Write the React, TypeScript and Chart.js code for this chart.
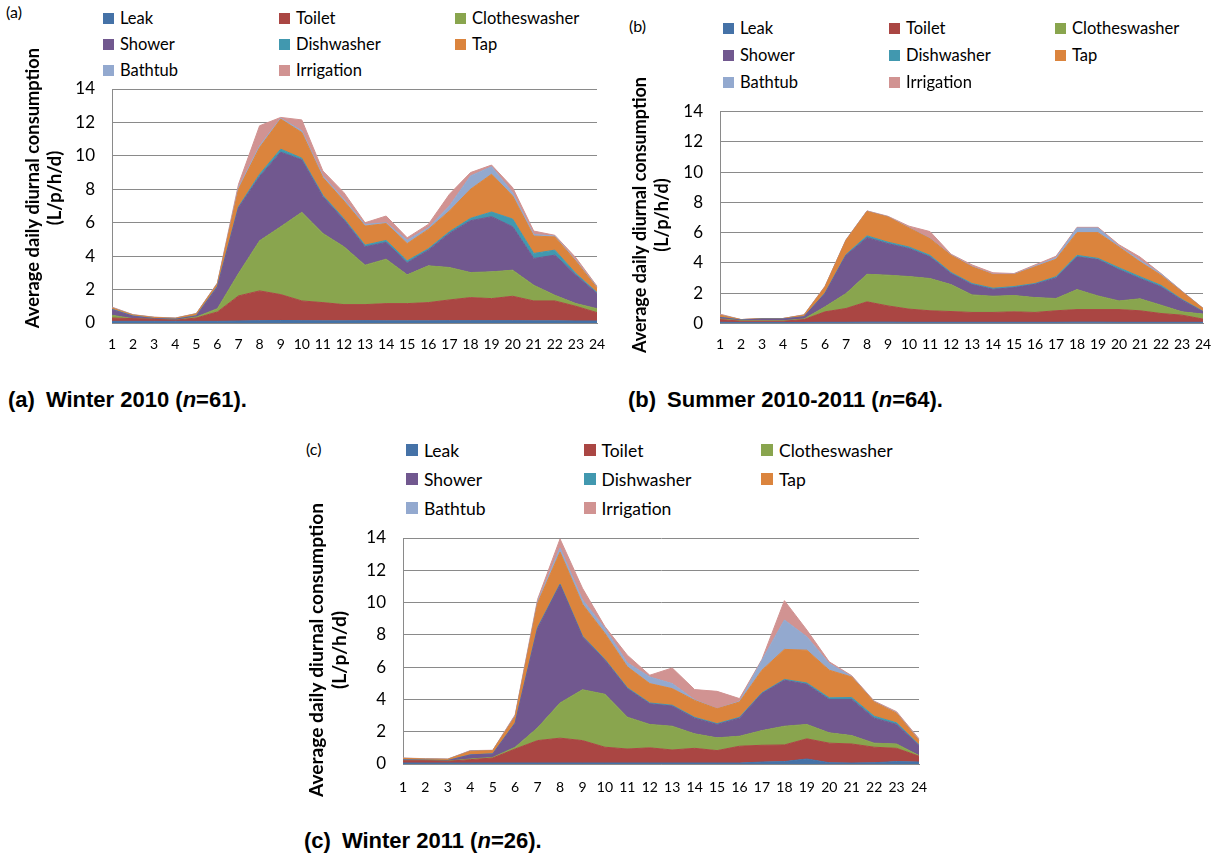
import React, { useEffect, useRef } from 'react';
import { Chart, registerables } from 'chart.js';

Chart.register(...registerables);

const FONT = 'Lato, "Noto Sans", sans-serif';

const hours = ['1','2','3','4','5','6','7','8','9','10','11','12','13','14','15','16','17','18','19','20','21','22','23','24'];
const seriesNames = ['Leak','Toilet','Clotheswasher','Shower','Dishwasher','Tap','Bathtub','Irrigation'];
const seriesColors = ['#4572A7','#AA4643','#89A54E','#71588F','#4198AF','#DB843D','#93A9CF','#D19392'];
const yMin = 0;
const yMax = 14;
const yStep = 2;
const yTitleLines = ['Average daily diurnal consumption', '(L/p/h/d)'];

// (a) Winter 2010
const leakW10 = [0.1,0.1,0.1,0.1,0.1,0.1,0.12,0.14,0.15,0.14,0.13,0.13,0.14,0.13,0.13,0.13,0.14,0.14,0.14,0.14,0.13,0.13,0.12,0.12];
const toiletW10 = [0.2,0.16,0.12,0.06,0.2,0.56,1.5,1.78,1.55,1.18,1.09,0.97,0.96,1.03,1.03,1.09,1.24,1.38,1.32,1.46,1.19,1.19,0.88,0.5];
const clothesW10 = [0.16,0,0,0,0.06,0.2,1.34,3.0,4.06,5.3,4.14,3.46,2.36,2.66,1.72,2.2,1.94,1.5,1.6,1.56,0.94,0.34,0.16,0.24];
const showerW10 = [0.34,0.14,0.04,0.06,0.06,1.3,3.94,3.84,4.46,3.14,2.2,1.6,1.1,1.0,0.72,0.94,2.04,3.1,3.3,2.6,1.6,2.4,1.7,0.9];
const dishW10 = [0.02,0.02,0.01,0.01,0.02,0.04,0.05,0.14,0.18,0.1,0.08,0.08,0.1,0.12,0.12,0.08,0.1,0.14,0.28,0.46,0.3,0.3,0.1,0.06];
const tapW10 = [0.08,0.06,0.06,0.05,0.11,0.15,1.05,1.6,1.8,1.54,1.06,1.06,1.14,1.01,1.03,1.16,1.24,1.74,2.26,1.38,1.04,0.79,0.74,0.28];
const bathW10 = [0.02,0.01,0.01,0.01,0.01,0.03,0.1,0.1,0.05,0.1,0.1,0.1,0.1,0.05,0.2,0.1,0.3,0.8,0.45,0.2,0.1,0.05,0.05,0.05];
const irrigW10 = [0.03,0.01,0.01,0.01,0.01,0.02,0.2,1.2,0.05,0.65,0.3,0.4,0.1,0.4,0.15,0.2,0.7,0.2,0.1,0.3,0.2,0.05,0.15,0.05];

// (b) Summer 2010-2011
const leakS = [0.08,0.07,0.07,0.07,0.07,0.08,0.08,0.09,0.09,0.08,0.08,0.08,0.08,0.08,0.08,0.08,0.08,0.09,0.09,0.08,0.08,0.08,0.08,0.08];
const toiletS = [0.18,0.08,0.08,0.08,0.19,0.69,0.91,1.34,1.07,0.87,0.76,0.71,0.65,0.65,0.69,0.65,0.76,0.83,0.83,0.84,0.76,0.58,0.47,0.21];
const clothesS = [0.04,0.03,0.03,0.03,0.04,0.33,0.99,1.82,2.03,2.15,2.13,1.78,1.16,1.07,1.08,0.98,0.81,1.32,0.9,0.57,0.79,0.55,0.22,0.33];
const showerS = [0.1,0.04,0.11,0.11,0.14,0.88,2.52,2.42,2.08,1.85,1.43,0.73,0.68,0.46,0.52,0.88,1.36,2.16,2.4,2.07,1.34,1.21,0.77,0.15];
const dishS = [0.01,0.01,0.01,0.01,0.01,0.03,0.05,0.12,0.1,0.1,0.1,0.07,0.07,0.07,0.07,0.05,0.08,0.1,0.08,0.12,0.12,0.1,0.05,0.03];
const tapS = [0.14,0.03,0.03,0.03,0.1,0.41,0.94,1.61,1.66,1.26,1.1,1.13,1.1,0.9,0.79,1.1,1.15,1.5,1.7,1.37,0.98,0.67,0.5,0.19];
const bathS = [0.02,0,0,0,0.01,0.02,0.02,0.02,0.02,0.02,0.02,0.03,0.03,0.02,0.02,0.05,0.1,0.3,0.3,0.05,0.12,0.08,0.03,0.01];
const irrigS = [0.05,0,0,0,0.02,0.02,0.02,0.02,0.03,0.1,0.45,0.05,0.1,0.1,0.05,0.08,0.1,0.05,0.05,0.1,0.2,0.03,0.02,0.01];

// (c) Winter 2011
const leakW11 = [0.06,0.06,0.06,0.06,0.06,0.06,0.06,0.06,0.06,0.06,0.06,0.06,0.06,0.06,0.06,0.06,0.12,0.15,0.31,0.08,0.06,0.08,0.15,0.12];
const toiletW11 = [0.14,0.14,0.11,0.21,0.31,0.87,1.39,1.54,1.39,0.98,0.87,0.94,0.81,0.91,0.77,1.04,1.04,1.03,1.25,1.21,1.18,0.96,0.82,0.36];
const clothesW11 = [0,0,0.01,0.04,0.04,0.11,0.79,2.18,3.15,3.28,1.97,1.45,1.47,0.9,0.79,0.62,0.91,1.16,0.89,0.64,0.52,0.25,0.27,0.04];
const showerW11 = [0.05,0.03,0.03,0.25,0.21,1.49,6.16,7.32,3.28,2.11,1.77,1.28,1.25,0.97,0.83,1.12,2.29,2.85,2.49,2.07,2.24,1.55,1.21,0.62];
const dishW11 = [0.01,0.01,0.01,0.01,0.01,0.02,0.05,0.05,0.05,0.05,0.05,0.05,0.05,0.05,0.05,0.05,0.05,0.05,0.08,0.1,0.12,0.12,0.1,0.05];
const tapW11 = [0.09,0.07,0.07,0.22,0.2,0.4,1.51,1.98,1.97,1.61,1.3,1.2,1.03,1.05,0.92,0.95,1.4,1.86,2.03,1.71,1.27,0.88,0.6,0.26];
const bathW11 = [0.01,0.01,0.01,0.02,0.01,0.05,0.1,0.25,0.27,0.31,0.25,0.41,0.31,0.04,0,0.04,0.62,1.82,0.83,0.41,0.03,0.02,0.02,0.04];
const irrigW11 = [0.01,0.01,0.01,0.02,0.01,0.05,0.14,0.56,0.72,0.11,0.47,0.11,0.97,0.63,1.08,0.17,0.05,1.2,0.42,0.11,0.05,0.04,0.07,0.07];

const yTitlePlugin = {
  id: 'yTitleDraw',
  afterDraw(chart: any, _args: any, opts: any) {
    const ctx = chart.ctx;
    ctx.save();
    ctx.font = `bold ${opts.size}px ${FONT}`;
    ctx.fillStyle = '#000';
    ctx.textAlign = 'center';
    ctx.textBaseline = 'middle';
    (opts.lines as string[]).forEach((line, i) => {
      ctx.save();
      ctx.translate(opts.x + i * opts.gap, opts.cy);
      ctx.rotate(-Math.PI / 2);
      ctx.fillText(line, 0, 0);
      ctx.restore();
    });
    ctx.restore();
  },
};

type PanelProps = {
  series: number[][];
  canvas: { left: number; top: number; width: number; height: number };
  plot: { left: number; right: number; top: number; bottom: number };
  title: { x: number; cy: number; gap: number; size: number };
  xPad: number;
};

function AreaPanel({ series, canvas, plot, title, xPad }: PanelProps) {
  const ref = useRef<HTMLCanvasElement | null>(null);
  useEffect(() => {
    if (!ref.current) return;
    const yWidth = plot.left - canvas.left;
    const xHeight = canvas.top + canvas.height - plot.bottom;
    const chart = new Chart(ref.current, {
      type: 'line',
      data: {
        labels: hours,
        datasets: seriesNames.map((name, i) => ({
          label: name,
          data: series[i],
          backgroundColor: seriesColors[i],
          borderColor: seriesColors[i],
          borderWidth: 1,
          pointRadius: 0,
          tension: 0,
          fill: i === 0 ? 'origin' : '-1',
        })),
      },
      options: {
        animation: false,
        responsive: false,
        layout: {
          padding: {
            left: 0,
            top: plot.top - canvas.top,
            right: canvas.left + canvas.width - plot.right,
            bottom: 0,
          },
        },
        plugins: {
          legend: { display: false },
          tooltip: { enabled: false },
          yTitleDraw: {
            lines: yTitleLines,
            x: title.x - canvas.left,
            cy: title.cy - canvas.top,
            gap: title.gap,
            size: title.size,
          },
        } as any,
        scales: {
          x: {
            type: 'category',
            offset: false,
            grid: { display: false, drawTicks: false },
            border: { display: true, color: '#8a8a8a' },
            ticks: {
              autoSkip: false,
              maxRotation: 0,
              minRotation: 0,
              padding: xPad,
              color: '#000',
              font: { family: FONT, size: 14 },
            },
            afterFit: (s: any) => { s.height = xHeight; },
          },
          y: {
            stacked: true,
            min: yMin,
            max: yMax,
            ticks: {
              stepSize: yStep,
              padding: 17,
              color: '#000',
              font: { family: FONT, size: 17 },
            },
            grid: { color: '#8a8a8a', lineWidth: 1, drawTicks: false },
            border: { display: true, color: '#8a8a8a' },
            afterFit: (s: any) => { s.width = yWidth; },
          },
        },
      },
      plugins: [yTitlePlugin],
    });
    return () => chart.destroy();
  }, []);
  return (
    <canvas
      ref={ref}
      width={canvas.width}
      height={canvas.height}
      style={{ position: 'absolute', left: canvas.left, top: canvas.top, width: canvas.width, height: canvas.height }}
    />
  );
}

function Legend({ x, y, colGap, rowGap, size, font }: { x: number; y: number; colGap: number; rowGap: number; size: number; font: number }) {
  return (
    <>
      {seriesNames.map((name, i) => {
        const r = Math.floor(i / 3);
        const c = i % 3;
        return (
          <div
            key={name}
            style={{
              position: 'absolute',
              left: x + c * colGap,
              top: y + r * rowGap - 12,
              height: 24,
              display: 'flex',
              alignItems: 'center',
              fontFamily: FONT,
              fontSize: font,
              color: '#000',
              whiteSpace: 'nowrap',
            }}
          >
            <span style={{ display: 'inline-block', width: size, height: size, background: seriesColors[i], marginRight: 6 }} />
            <span>{name}</span>
          </div>
        );
      })}
    </>
  );
}

function Tag({ text, x, y }: { text: string; x: number; y: number }) {
  return (
    <div style={{ position: 'absolute', left: x, top: y - 10, height: 20, lineHeight: '20px', fontFamily: FONT, fontSize: 16, color: '#000' }}>
      {text}
    </div>
  );
}

function Caption({ label, name, n, x, y }: { label: string; name: string; n: string; x: number; y: number }) {
  return (
    <div
      style={{
        position: 'absolute',
        left: x,
        top: y - 13,
        height: 26,
        lineHeight: '26px',
        fontFamily: '"Liberation Sans", Arial, sans-serif',
        fontWeight: 'bold',
        fontSize: 22,
        color: '#000',
        whiteSpace: 'pre',
      }}
    >
      {label}<span style={{ display: 'inline-block', width: 11 }} />{name} (<i>n</i>={n}).
    </div>
  );
}

export default function App() {
  return (
    <div style={{ position: 'absolute', left: 0, top: 0, width: 1216, height: 858, background: '#fff', overflow: 'hidden' }}>
      <Tag text="(a)" x={6} y={12} />
      <Legend x={103} y={18} colGap={176} rowGap={26} size={11} font={16.5} />
      <AreaPanel
        series={[leakW10, toiletW10, clothesW10, showerW10, dishW10, tapW10, bathW10, irrigW10]}
        canvas={{ left: 0, top: 40, width: 625, height: 320 }}
        plot={{ left: 112, right: 597, top: 89, bottom: 323 }}
        title={{ x: 33, cy: 188, gap: 22, size: 18.3 }}
        xPad={13}
      />
      <Caption label="(a)" name="Winter 2010" n="61" x={8} y={400} />

      <Tag text="(b)" x={629} y={26} />
      <Legend x={723} y={28} colGap={166} rowGap={27} size={11} font={16.5} />
      <AreaPanel
        series={[leakS, toiletS, clothesS, showerS, dishS, tapS, bathS, irrigS]}
        canvas={{ left: 612, top: 70, width: 618, height: 290 }}
        plot={{ left: 720, right: 1203, top: 111.5, bottom: 323.5 }}
        title={{ x: 640, cy: 215, gap: 22, size: 18 }}
        xPad={13}
      />
      <Caption label="(b)" name="Summer 2010-2011" n="64" x={628} y={400} />

      <Tag text="(c)" x={306} y={449} />
      <Legend x={406} y={450} colGap={177.5} rowGap={29} size={12} font={17.5} />
      <AreaPanel
        series={[leakW11, toiletW11, clothesW11, showerW11, dishW11, tapW11, bathW11, irrigW11]}
        canvas={{ left: 290, top: 495, width: 654, height: 315 }}
        plot={{ left: 403, right: 919, top: 538, bottom: 764 }}
        title={{ x: 317, cy: 650, gap: 23, size: 19.2 }}
        xPad={15}
      />
      <Caption label="(c)" name="Winter 2011" n="26" x={304} y={841} />
    </div>
  );
}
